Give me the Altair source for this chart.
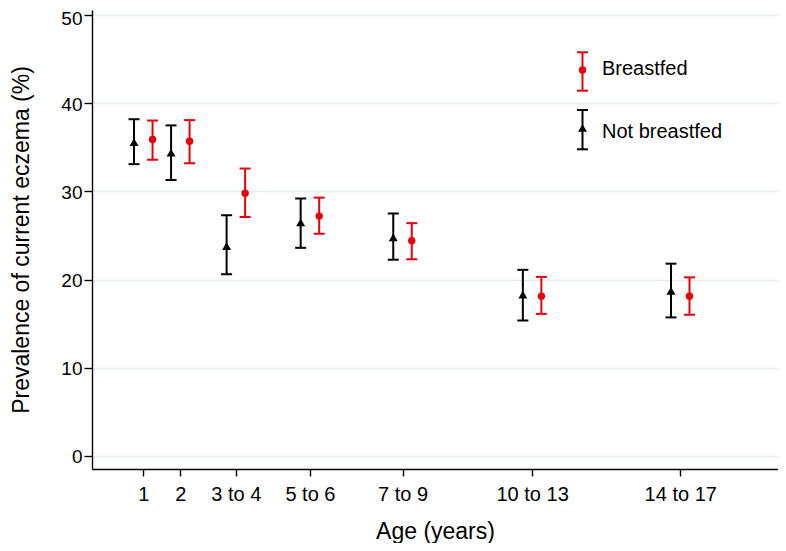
import altair as alt
import pandas as pd

# ---- data ----
age_pos = [1, 2, 3.5, 5.5, 8, 11.5, 15.5]
age_labels = ["1", "2", "3 to 4", "5 to 6", "7 to 9", "10 to 13", "14 to 17"]

groups = ["Breastfed", "Not breastfed"]

bf_est = [35.9, 35.7, 29.8, 27.2, 24.4, 18.1, 18.1]
bf_lo = [33.6, 33.2, 27.1, 25.2, 22.3, 16.1, 16.0]
bf_hi = [38.05, 38.1, 32.6, 29.3, 26.4, 20.3, 20.25]

nbf_est = [35.6, 34.4, 23.8, 26.5, 24.8, 18.3, 18.7]
nbf_lo = [33.1, 31.3, 20.6, 23.6, 22.25, 15.35, 15.7]
nbf_hi = [38.2, 37.5, 27.3, 29.2, 27.5, 21.1, 21.8]

y_ticks = [0, 10, 20, 30, 40, 50]

RED = "#e8000b"
BLACK = "#000000"
FONT = "Liberation Sans"
DODGE = 0.25  # horizontal separation of the two groups (years)

rows = []
for p, e, lo, hi in zip(age_pos, bf_est, bf_lo, bf_hi):
    rows.append({"age": p, "xpos": p + DODGE, "group": groups[0], "est": e, "lo": lo, "hi": hi})
for p, e, lo, hi in zip(age_pos, nbf_est, nbf_lo, nbf_hi):
    rows.append({"age": p, "xpos": p - DODGE, "group": groups[1], "est": e, "lo": lo, "hi": hi})
df = pd.DataFrame(rows)

label_expr = " : ".join(f"datum.value == {p} ? '{l}'" for p, l in zip(age_pos, age_labels)) + " : ''"

xscale = alt.Scale(domain=[-0.385, 18.14], nice=False, zero=False)
yscale = alt.Scale(domain=[-1.51, 50.6], nice=False, zero=False)

color = alt.Color("group:N", scale=alt.Scale(domain=groups, range=[RED, BLACK]), legend=None)

x_enc = alt.X(
    "xpos:Q",
    scale=xscale,
    axis=alt.Axis(
        values=age_pos,
        labelExpr=label_expr,
        title="Age (years)",
        grid=False,
        tickSize=7,
        labelPadding=8,
        labelFontSize=20,
        titleFontSize=23,
        titlePadding=16,
        labelFlush=False,
        labelOverlap=False,
    ),
)
y_axis = alt.Axis(
    values=y_ticks,
    title="Prevalence of current eczema (%)",
    grid=True,
    tickSize=8,
    labelPadding=2,
    labelFontSize=19,
    labelOffset={"condition": {"test": "datum.value == 50", "value": 3.5}, "value": 1},
    titleFontSize=23,
    titlePadding=27,
)

base = alt.Chart(df)

bars = base.mark_rule(strokeWidth=2).encode(
    x=x_enc,
    y=alt.Y("lo:Q", scale=yscale, axis=y_axis),
    y2="hi:Q",
    color=color,
)
cap_lo = base.mark_tick(orient="horizontal", thickness=2, size=11, opacity=1).encode(
    x="xpos:Q", y="lo:Q", color=color
)
cap_hi = base.mark_tick(orient="horizontal", thickness=2, size=11, opacity=1).encode(
    x="xpos:Q", y="hi:Q", color=color
)
points = base.mark_point(filled=True, opacity=1).encode(
    x="xpos:Q",
    y="est:Q",
    color=color,
    shape=alt.Shape("group:N", scale=alt.Scale(domain=groups, range=["circle", "triangle-up"]), legend=None),
    size=alt.Size("group:N", scale=alt.Scale(domain=groups, range=[55, 80]), legend=None),
)

# ---- hand-drawn legend (plot-pixel coordinates) ----
def legend_entry(label, col, shape, size, cx, ytop, ybot, ymark, ytext):
    d = pd.DataFrame({"label": [label]})
    c = alt.Chart(d)
    rule = c.mark_rule(color=col, strokeWidth=2).encode(
        x=alt.value(cx), y=alt.value(ytop), y2=alt.value(ybot)
    )
    t1 = c.mark_rule(color=col, strokeWidth=2).encode(
        x=alt.value(cx - 5.5), x2=alt.value(cx + 5.5), y=alt.value(ytop)
    )
    t2 = c.mark_rule(color=col, strokeWidth=2).encode(
        x=alt.value(cx - 5.5), x2=alt.value(cx + 5.5), y=alt.value(ybot)
    )
    m = c.mark_point(filled=True, opacity=1, color=col, shape=shape, size=size).encode(
        x=alt.value(cx), y=alt.value(ymark)
    )
    txt = c.mark_text(align="left", baseline="middle", fontSize=20, font=FONT, color=BLACK).encode(
        x=alt.value(cx + 19.5), y=alt.value(ytext), text="label:N"
    )
    return [rule, t1, t2, m, txt]

leg = legend_entry(groups[0], RED, "circle", 55, 490.5, 42.3, 80.7, 60, 59) + \
      legend_entry(groups[1], BLACK, "triangle-up", 80, 490.5, 100, 139.3, 118, 121.7)

chart = alt.layer(bars, cap_lo, cap_hi, points, *leg).properties(
    width=686,
    height=459,
    autosize=alt.AutoSizeParams(type="none"),
    padding={"left": 84, "top": 2, "right": 0, "bottom": 74},
    background="white",
).configure_view(
    stroke=None
).configure_axis(
    labelFont=FONT,
    titleFont=FONT,
    labelColor=BLACK,
    titleColor=BLACK,
    titleFontWeight="normal",
    domainColor=BLACK,
    domainWidth=1.4,
    tickColor=BLACK,
    tickWidth=1.4,
    gridColor="#e4ecee",
    gridWidth=1.5,
)

chart.save("out.html", embed_options={"renderer": "svg", "actions": False})
